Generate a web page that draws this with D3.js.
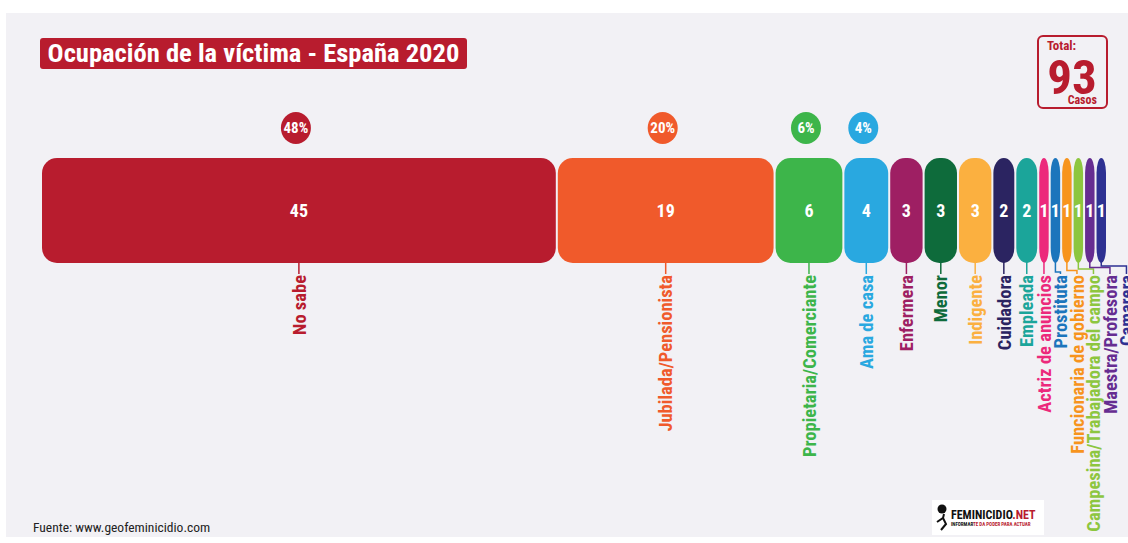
<!DOCTYPE html>
<html lang="es">
<head>
    <meta charset="UTF-8">
    <title>Ocupación de la víctima - España 2020</title>
    <script src="https://d3js.org/d3.v7.min.js"></script>
    <style>
        body {
            margin: 0;
            padding: 0;
            background-color: #fff;
        }
        svg text {
            font-family: "Liberation Sans Narrow", "Roboto Condensed", "DejaVu Sans Condensed", sans-serif;
            font-weight: bold;
        }
    </style>
</head>
<body>
    <div id="chart"></div>

    <script>
        const categories = [
            "No sabe", "Jubilada/Pensionista", "Propietaria/Comerciante", "Ama de casa",
            "Enfermera", "Menor", "Indigente", "Cuidadora", "Empleada",
            "Actriz de anuncios", "Prostituta", "Funcionaria de gobierno",
            "Campesina/Trabajadora del campo", "Maestra/Profesora", "Camarera"
        ];
        const counts = [45, 19, 6, 4, 3, 3, 3, 2, 2, 1, 1, 1, 1, 1, 1];
        const colors = [
            "#b81c2e", "#f05a2b", "#3db54a", "#29a8e0",
            "#9e1f63", "#0e6b3b", "#fbb040", "#2b2461", "#1ba59a",
            "#ec297b", "#1c75bc", "#f7941d",
            "#8dc63f", "#662d91", "#2e3192"
        ];

        const width = 1128, height = 543;
        const barTop = 158, barBottom = 263, labelTop = 274;
        const total = d3.sum(counts);

        const data = categories.map((c, i) => ({
            name: c,
            value: counts[i],
            color: colors[i],
            start: d3.sum(counts.slice(0, i))
        }));

        const x = d3.scaleLinear()
            .domain([0, total])
            .range([42, 1108]);

        const svg = d3.select("#chart")
            .append("svg")
            .attr("width", width)
            .attr("height", height);

        // panel background
        svg.append("rect")
            .attr("x", 6)
            .attr("y", 13)
            .attr("width", width - 6)
            .attr("height", 524)
            .attr("fill", "#f2f1f5");

        // title
        svg.append("rect")
            .attr("x", 40).attr("y", 38)
            .attr("width", 427).attr("height", 31)
            .attr("rx", 3)
            .attr("fill", "#b81c2e");
        const title = svg.append("text")
            .attr("x", 253.5).attr("y", 62)
            .attr("text-anchor", "middle")
            .attr("fill", "#fff")
            .style("font-size", "24px")
            .text("Ocupación de la víctima - España 2020");
        const tw = title.node().getComputedTextLength();
        title.style("font-size", (24 * 412 / tw) + "px");

        // total box
        svg.append("rect")
            .attr("x", 1038).attr("y", 36)
            .attr("width", 69).attr("height", 72)
            .attr("rx", 5)
            .attr("fill", "none")
            .attr("stroke", "#b81c2e")
            .attr("stroke-width", 2);
        svg.append("text")
            .attr("x", 1047).attr("y", 50)
            .attr("fill", "#b81c2e")
            .style("font-size", "13px")
            .text("Total:");
        svg.append("text")
            .attr("x", 1072).attr("y", 94)
            .attr("text-anchor", "middle")
            .attr("fill", "#b81c2e")
            .style("font-size", "49px")
            .text(total);
        svg.append("text")
            .attr("x", 1097).attr("y", 104)
            .attr("text-anchor", "end")
            .attr("fill", "#b81c2e")
            .style("font-size", "12px")
            .text("Casos");

        // bars
        const gap = 2;
        data.forEach(d => {
            d.x0 = x(d.start);
            d.x1 = x(d.start + d.value) - gap;
            d.cx = (d.x0 + d.x1) / 2;
        });

        svg.selectAll("rect.bar")
            .data(data)
            .enter()
            .append("rect")
            .attr("class", "bar")
            .attr("x", d => d.x0)
            .attr("y", barTop)
            .attr("width", d => d.x1 - d.x0)
            .attr("height", barBottom - barTop)
            .attr("rx", d => Math.min(15, (d.x1 - d.x0) / 2))
            .attr("ry", 15)
            .attr("fill", d => d.color);

        svg.selectAll("text.val")
            .data(data)
            .enter()
            .append("text")
            .attr("class", "val")
            .attr("x", d => d.cx)
            .attr("y", (barTop + barBottom) / 2)
            .attr("dy", "0.36em")
            .attr("text-anchor", "middle")
            .attr("fill", "#fff")
            .style("font-size", "18px")
            .text(d => d.value);

        // percentage bubbles
        const pct = data.filter(d => d.value / total >= 0.04);
        svg.selectAll("ellipse.pct")
            .data(pct)
            .enter()
            .append("ellipse")
            .attr("class", "pct")
            .attr("cx", d => d.cx - 3)
            .attr("cy", 128)
            .attr("rx", 15)
            .attr("ry", 16)
            .attr("fill", d => d.color);
        svg.selectAll("text.pct")
            .data(pct)
            .enter()
            .append("text")
            .attr("class", "pct")
            .attr("x", d => d.cx - 3)
            .attr("y", 128)
            .attr("dy", "0.36em")
            .attr("text-anchor", "middle")
            .attr("fill", "#fff")
            .style("font-size", "15px")
            .text(d => Math.round(d.value / total * 100) + "%");

        // label positions, pushed right when crowded
        const minGap = 16.5;
        let prev = -Infinity;
        data.forEach(d => {
            d.lx = Math.max(d.cx, prev + minGap);
            prev = d.lx;
        });
        const shifted = data.filter(d => d.lx - d.cx > 0.5);
        shifted.forEach((d, j) => {
            d.elbow = barBottom + 3 + 1.5 * (shifted.length - 1 - j);
        });

        svg.selectAll("path.leader")
            .data(data)
            .enter()
            .append("path")
            .attr("class", "leader")
            .attr("fill", "none")
            .attr("stroke", d => d.color)
            .attr("stroke-width", 1.5)
            .attr("d", d => {
                if (d.elbow === undefined) {
                    return `M${d.cx},${barBottom - 2}V${labelTop}`;
                }
                return `M${d.cx},${barBottom - 2}V${d.elbow}H${d.lx}V${labelTop}`;
            });

        svg.selectAll("text.lab")
            .data(data)
            .enter()
            .append("text")
            .attr("class", "lab")
            .attr("transform", d => `translate(${d.lx},${labelTop + 1}) rotate(-90)`)
            .attr("dy", "0.36em")
            .attr("text-anchor", "end")
            .attr("fill", d => d.color)
            .style("font-size", "18.5px")
            .text(d => d.name);

        // source
        svg.append("text")
            .attr("x", 33).attr("y", 532)
            .attr("fill", "#222")
            .style("font-weight", "normal")
            .style("font-size", "13.5px")
            .text("Fuente: www.geofeminicidio.com");

        // logo
        const logo = svg.append("g");
        logo.append("rect")
            .attr("x", 932).attr("y", 500)
            .attr("width", 112).attr("height", 35)
            .attr("fill", "#fff");
        logo.append("circle")
            .attr("cx", 942).attr("cy", 509).attr("r", 4.5)
            .attr("fill", "#111");
        logo.append("path")
            .attr("d", "M937,522 L943,518 L946,524 L941,530 M943,518 L944,514")
            .attr("stroke", "#111").attr("stroke-width", 2).attr("fill", "none");
        const lt = logo.append("text")
            .attr("x", 951).attr("y", 519)
            .attr("fill", "#111")
            .style("font-size", "12px");
        lt.append("tspan").text("FEMINICIDIO");
        lt.append("tspan").attr("fill", "#b81c2e").text(".NET");
        const st = logo.append("text")
            .attr("x", 951).attr("y", 526)
            .attr("fill", "#111")
            .style("font-size", "5px");
        st.append("tspan").text("INFORMAR");
        st.append("tspan").attr("fill", "#b81c2e").text("TE DA PODER PARA ACTUAR");
    </script>
</body>
</html>
